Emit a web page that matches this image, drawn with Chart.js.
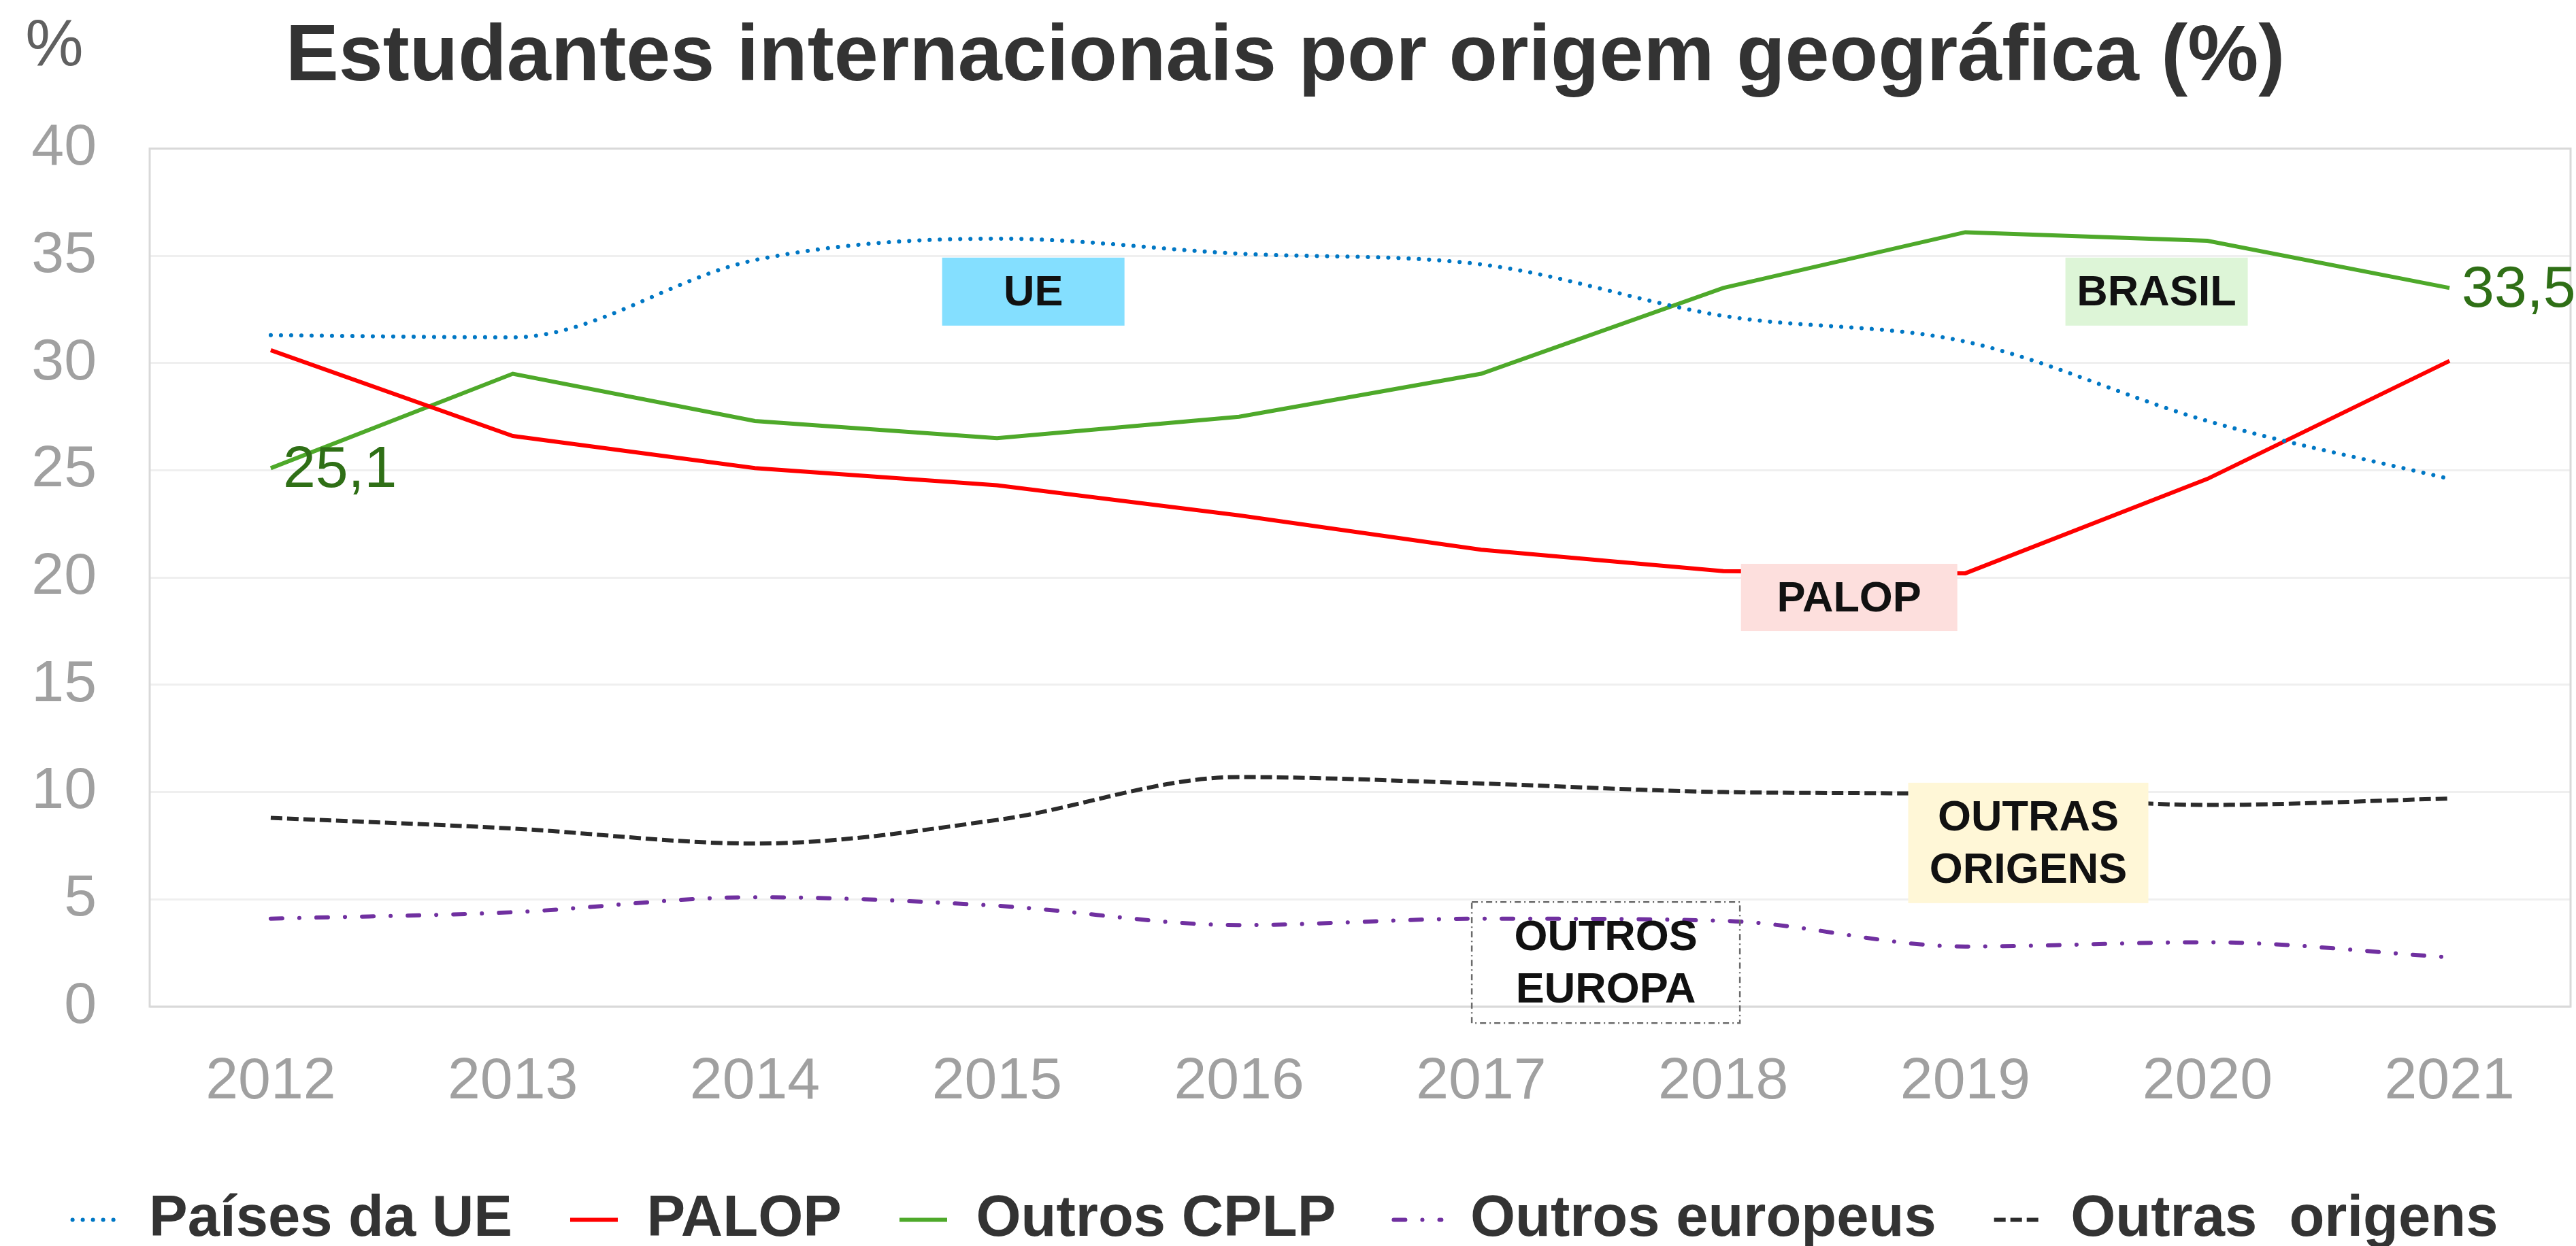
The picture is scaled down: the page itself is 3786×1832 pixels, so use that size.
<!DOCTYPE html>
<html lang="pt">
<head>
<meta charset="utf-8">
<title>Estudantes internacionais por origem geográfica</title>
<script src="https://cdn.jsdelivr.net/npm/chart.js@4.4.1/dist/chart.umd.min.js"></script>
<style>
    html, body { margin: 0; padding: 0; background: #fff; }
    #wrap { width: 3786px; height: 1832px; position: relative; }
</style>
</head>
<body>
<div id="wrap"><canvas id="origemChart"></canvas></div>
<script>
// valores (%)
const anos = ['2012', '2013', '2014', '2015', '2016', '2017', '2018', '2019', '2020', '2021'];
const paisesUE = [31.3, 31.2, 34.8, 35.8, 35.1, 34.6, 32.2, 31.0, 27.3, 24.6];
const palop = [30.6, 26.6, 25.1, 24.3, 22.9, 21.3, 20.3, 20.2, 24.6, 30.1];
const outrosCPLP = [25.1, 29.5, 27.3, 26.5, 27.5, 29.5, 33.5, 36.1, 35.7, 33.5];
const outrosEuropeus = [4.1, 4.4, 5.1, 4.7, 3.8, 4.1, 4.0, 2.8, 3.0, 2.3];
const outrasOrigens = [8.8, 8.3, 7.6, 8.7, 10.7, 10.4, 10.0, 9.9, 9.4, 9.7];
const yTicks = [0, 5, 10, 15, 20, 25, 30, 35, 40];

const FONT = "'Liberation Sans', Arial, sans-serif";
const TICK_GREY = '#A0A0A0';

// caixas de texto sobre o gráfico (posição em índice de ano / valor)
const notas = [
    { linhas: ['UE'], xi: 3.15, yv: 33.33, w: 268, h: 100, fundo: '#84DFFF' },
    { linhas: ['BRASIL'], xi: 7.79, yv: 33.33, w: 268, h: 100, fundo: '#DDF5D7' },
    { linhas: ['PALOP'], xi: 6.52, yv: 19.07, w: 318, h: 99, fundo: '#FDDFDD' },
    { linhas: ['OUTRAS', 'ORIGENS'], xi: 7.26, yv: 7.63, w: 353, h: 177, fundo: '#FFF7D7' },
    { linhas: ['OUTROS', 'EUROPA'], xi: 5.515, yv: 2.05, w: 394, h: 178, fundo: null, contorno: '#6B6B6B' }
];

const plotFrame = {
    id: 'plotFrame',
    beforeDatasetsDraw(chart) {
        const { ctx, chartArea: a } = chart;
        ctx.save();
        ctx.strokeStyle = '#D9D9D9';
        ctx.lineWidth = 3;
        ctx.strokeRect(a.left, a.top, a.right - a.left, a.bottom - a.top);
        ctx.restore();
    }
};

const caixasTexto = {
    id: 'caixasTexto',
    afterDatasetsDraw(chart) {
        const { ctx, scales: { x, y } } = chart;
        ctx.save();
        notas.forEach(n => {
            const cx = x.getPixelForValue(n.xi);
            const cy = y.getPixelForValue(n.yv);
            const l = cx - n.w / 2, t = cy - n.h / 2;
            if (n.fundo) {
                ctx.fillStyle = n.fundo;
                ctx.fillRect(l, t, n.w, n.h);
            }
            if (n.contorno) {
                ctx.strokeStyle = n.contorno;
                ctx.lineWidth = 2.5;
                ctx.setLineDash([9, 5, 2, 5]);
                ctx.strokeRect(l, t, n.w, n.h);
                ctx.setLineDash([]);
            }
            ctx.fillStyle = '#111111';
            ctx.font = 'bold 63px ' + FONT;
            ctx.textAlign = 'center';
            ctx.textBaseline = 'middle';
            const passo = 77;
            const y0 = cy - (n.linhas.length - 1) * passo / 2;
            n.linhas.forEach((txt, i) => ctx.fillText(txt, cx, y0 + i * passo + 3));
        });
        ctx.restore();
    }
};

// rótulos "25,1" e "33,5" na série Outros CPLP
const rotulosCPLP = {
    id: 'rotulosCPLP',
    afterDatasetsDraw(chart) {
        const { ctx } = chart;
        const meta = chart.getDatasetMeta(2);
        const idx = [0, outrosCPLP.length - 1];
        ctx.save();
        ctx.fillStyle = '#2F6F16';
        ctx.font = '86px ' + FONT;
        ctx.textAlign = 'left';
        ctx.textBaseline = 'middle';
        idx.forEach(i => {
            const p = meta.data[i];
            const txt = outrosCPLP[i].toFixed(1).replace('.', ',');
            ctx.fillText(txt, p.x + 18, p.y + 4);
        });
        ctx.restore();
    }
};

const unidade = {
    id: 'unidade',
    afterDraw(chart) {
        const { ctx } = chart;
        ctx.save();
        ctx.fillStyle = '#606060';
        ctx.font = '96px ' + FONT;
        ctx.textAlign = 'center';
        ctx.textBaseline = 'middle';
        ctx.fillText('%', 80, 70);
        ctx.restore();
    }
};

new Chart(document.getElementById('origemChart'), {
    type: 'line',
    data: {
        labels: anos,
        datasets: [
            {
                label: 'Países da UE', data: paisesUE,
                borderColor: '#0077C4', borderWidth: 6,
                borderDash: [0.1, 14.9], borderCapStyle: 'round',
                cubicInterpolationMode: 'monotone'
            },
            {
                label: 'PALOP', data: palop,
                borderColor: '#FF0000', borderWidth: 6, tension: 0
            },
            {
                label: 'Outros CPLP', data: outrosCPLP,
                borderColor: '#4EA92A', borderWidth: 6, tension: 0
            },
            {
                label: 'Outros europeus', data: outrosEuropeus,
                borderColor: '#7030A0', borderWidth: 6,
                borderDash: [17, 25, 0.1, 25], borderCapStyle: 'round',
                cubicInterpolationMode: 'monotone'
            },
            {
                label: 'Outras  origens', data: outrasOrigens,
                borderColor: '#2B2B2B', borderWidth: 6,
                borderDash: [17, 7], cubicInterpolationMode: 'monotone'
            }
        ]
    },
    options: {
        responsive: true,
        maintainAspectRatio: false,
        animation: false,
        elements: { point: { radius: 0, hoverRadius: 0 } },
        layout: { padding: { left: 0, right: 8, top: 0, bottom: -14 } },
        plugins: {
            title: {
                display: true,
                text: 'Estudantes internacionais por origem geográfica (%)',
                color: '#333333',
                font: { family: FONT, size: 117, weight: 'bold', lineHeight: 1.2 },
                padding: { top: 16, bottom: 62 }
            },
            legend: {
                position: 'bottom',
                labels: {
                    color: '#333333',
                    font: { family: FONT, size: 85, weight: 'bold' },
                    usePointStyle: true,
                    pointStyleWidth: 70,
                    padding: 85,
                    generateLabels: chart => chart.data.datasets.map((ds, i) => ({
                        text: ds.label,
                        fillStyle: ds.borderColor,
                        strokeStyle: ds.borderColor,
                        fontColor: '#333333',
                        lineWidth: ds.borderWidth,
                        lineDash: ds.borderDash || [],
                        lineCap: ds.borderCapStyle || 'butt',
                        pointStyle: 'line',
                        datasetIndex: i
                    }))
                }
            },
            tooltip: { enabled: false }
        },
        scales: {
            x: {
                offset: true,
                grid: { display: false, drawTicks: false },
                border: { display: false },
                ticks: {
                    color: TICK_GREY, font: { family: FONT, size: 86 },
                    padding: 60, maxRotation: 0, autoSkip: false
                },
                afterFit: s => { s.height = 186; }
            },
            y: {
                min: 0,
                max: 40,
                afterBuildTicks: s => { s.ticks = yTicks.map(v => ({ value: v })); },
                grid: { color: '#EFEFEF', lineWidth: 3, drawTicks: false },
                border: { display: false },
                ticks: { color: TICK_GREY, font: { family: FONT, size: 86 }, padding: 78 },
                afterFit: s => { s.width = 220; }
            }
        }
    },
    plugins: [plotFrame, caixasTexto, rotulosCPLP, unidade]
});
</script>
</body>
</html>
